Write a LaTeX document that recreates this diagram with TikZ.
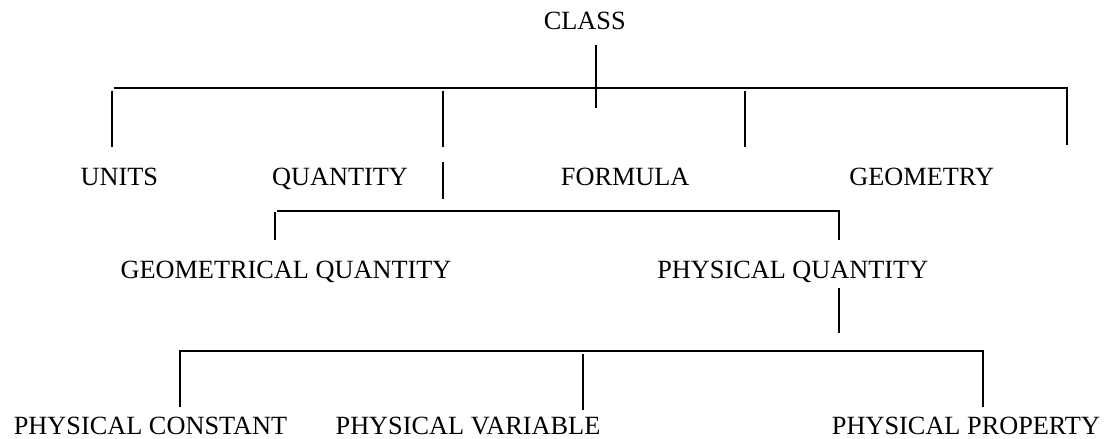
\documentclass[tikz,border=0pt]{standalone}
\usepackage{fontspec}
\setmainfont{Liberation Serif}
\begin{document}
\begin{tikzpicture}[x=1pt,y=-1pt,
  lbl/.style={inner sep=0pt,anchor=base,font=\fontsize{26.3}{30}\selectfont},
  conn/.style={line width=2pt}]
\useasboundingbox (0,0) rectangle (1106,439);
% labels
\node[lbl] (class) at (584.7,29.5) {CLASS};
\node[lbl] (units) at (119.3,185) {UNITS};
\node[lbl] (quantity) at (340,185) {QUANTITY};
\node[lbl] (formula) at (625.2,185) {FORMULA};
\node[lbl] (geometry) at (921.7,185) {GEOMETRY};
\node[lbl] (geomq) at (286,278.3) {GEOMETRICAL QUANTITY};
\node[lbl] (physq) at (792.8,278.3) {PHYSICAL QUANTITY};
\node[lbl] (pconst) at (150.5,434) {PHYSICAL CONSTANT};
\node[lbl] (pvar) at (468,434) {PHYSICAL VARIABLE};
\node[lbl] (pprop) at (966,434) {PHYSICAL PROPERTY};
% junction coordinates
\coordinate (c1) at (596,45);
\coordinate (c2) at (596,107.7);
\coordinate (h1l) at (114,88.3);
\coordinate (h1r) at (1067,88.3);
\coordinate (geoT) at (1067,145);
\coordinate (unT) at (111.7,90.7);
\coordinate (unB) at (111.7,147.3);
\coordinate (quT) at (442.7,90.7);
\coordinate (quB) at (442.7,147.3);
\coordinate (qu2T) at (442.7,161.7);
\coordinate (qu2B) at (442.7,199.3);
\coordinate (foT) at (745.3,90.7);
\coordinate (foB) at (745.3,147.3);
\coordinate (h2l) at (277.3,210.7);
\coordinate (h2r) at (838.7,210.7);
\coordinate (pqT) at (838.7,239.7);
\coordinate (gqT) at (274.7,212);
\coordinate (gqB) at (274.7,239.7);
\coordinate (pq2T) at (839,288);
\coordinate (pq2B) at (839,333.3);
\coordinate (h3l) at (180.3,350.5);
\coordinate (h3r) at (983,350.5);
\coordinate (pcB) at (180.3,407.3);
\coordinate (ppB) at (983,407.3);
\coordinate (pvT) at (582.7,354);
\coordinate (pvB) at (582.7,409.7);
% connectors
\draw[conn] (c1) -- (c2);
\draw[conn] (h1l) -- (h1r) -- (geoT);
\draw[conn] (unT) -- (unB);
\draw[conn] (quT) -- (quB);
\draw[conn] (qu2T) -- (qu2B);
\draw[conn] (foT) -- (foB);
\draw[conn] (h2l) -- (h2r) -- (pqT);
\draw[conn] (gqT) -- (gqB);
\draw[conn] (pq2T) -- (pq2B);
\draw[conn] (pcB) -- (h3l) -- (h3r) -- (ppB);
\draw[conn] (pvT) -- (pvB);
\end{tikzpicture}
\end{document}
